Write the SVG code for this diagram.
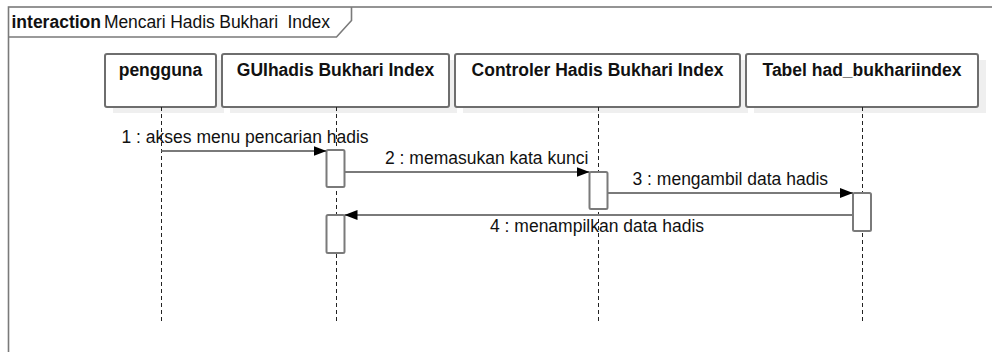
<svg xmlns="http://www.w3.org/2000/svg" width="992" height="352" viewBox="0 0 992 352">
  <style>
    .frame { fill: none; stroke: #7a7a7a; stroke-width: 1.6; }
    .head { fill: #ffffff; stroke: #6e6e6e; stroke-width: 2; }
    .shadow { fill: #efefef; stroke: none; }
    .life { stroke: #222222; stroke-width: 1; stroke-dasharray: 4 3; fill: none; }
    .act { fill: #ffffff; stroke: #7a7a7a; stroke-width: 2; }
    .msg { fill: none; stroke: #7a7a7a; stroke-width: 2; marker-end: url(#arrow); }
    text { font-family: "Liberation Sans", Arial, sans-serif; font-size: 17.5px; fill: #111111; }
    .title { font-weight: bold; }
    .hlabel { font-weight: bold; text-anchor: middle; }
  </style>
  <defs>
    <marker id="arrow" markerUnits="userSpaceOnUse" markerWidth="14" markerHeight="11" refX="13" refY="5" orient="auto">
      <path d="M0,0 L13,5 L0,10 Z" fill="#000000"/>
    </marker>
  </defs>

  <rect width="992" height="352" fill="#ffffff"/>

  <!-- interaction frame -->
  <g id="frame">
    <rect class="frame" x="8.5" y="7" width="1000" height="360"/>
    <path class="frame" d="M8.5,37 L336.5,37 L351.5,20.5 L351.5,7"/>
    <text class="title" x="11.5" y="28">interaction</text>
    <text x="104" y="28" xml:space="preserve" textLength="226" lengthAdjust="spacing">Mencari Hadis Bukhari  Index</text>
  </g>

  <!-- lifeline: pengguna -->
  <g id="pengguna">
    <rect class="shadow" x="113" y="60" width="111" height="53"/>
    <rect class="head" x="105" y="54" width="111" height="53" rx="2"/>
    <text class="hlabel" x="160.5" y="76">pengguna</text>
    <line class="life" x1="161.5" y1="107" x2="161.5" y2="322"/>
  </g>

  <!-- lifeline: GUIhadis Bukhari Index -->
  <g id="gui">
    <rect class="shadow" x="230" y="60" width="227" height="53"/>
    <rect class="head" x="222" y="54" width="227" height="53" rx="2"/>
    <text class="hlabel" x="335.5" y="76">GUIhadis Bukhari Index</text>
    <line class="life" x1="336.5" y1="107" x2="336.5" y2="322"/>
    <rect class="act" x="326.5" y="150" width="18" height="37" rx="1.5"/>
    <rect class="act" x="326.5" y="215" width="18" height="38" rx="1.5"/>
  </g>

  <!-- lifeline: Controler Hadis Bukhari Index -->
  <g id="controler">
    <rect class="shadow" x="463" y="60" width="285" height="53"/>
    <rect class="head" x="455" y="54" width="285" height="53" rx="2"/>
    <text class="hlabel" x="597.5" y="76">Controler Hadis Bukhari Index</text>
    <line class="life" x1="598.5" y1="107" x2="598.5" y2="322"/>
    <rect class="act" x="589.5" y="172" width="18" height="37" rx="1.5"/>
  </g>

  <!-- lifeline: Tabel had_bukhariindex -->
  <g id="tabel">
    <rect class="shadow" x="754" y="60" width="232" height="53"/>
    <rect class="head" x="746" y="54" width="232" height="53" rx="2"/>
    <text class="hlabel" x="862" y="76">Tabel had_bukhariindex</text>
    <line class="life" x1="862.5" y1="107" x2="862.5" y2="322"/>
    <rect class="act" x="853" y="193" width="18" height="38" rx="1.5"/>
  </g>

  <!-- messages -->
  <g id="connectors">
    <line class="msg" x1="161.5" y1="151" x2="326.5" y2="151"/>
    <text x="121.5" y="142.5">1 : akses menu pencarian hadis</text>

    <line class="msg" x1="344.5" y1="172" x2="589.5" y2="172"/>
    <text x="385" y="164">2 : memasukan kata kunci</text>

    <line class="msg" x1="607.5" y1="193" x2="853" y2="193"/>
    <text x="632.5" y="185">3 : mengambil data hadis</text>

    <line class="msg" x1="853" y1="215" x2="344.5" y2="215"/>
    <text x="490" y="231.5">4 : menampilkan data hadis</text>
  </g>
</svg>
